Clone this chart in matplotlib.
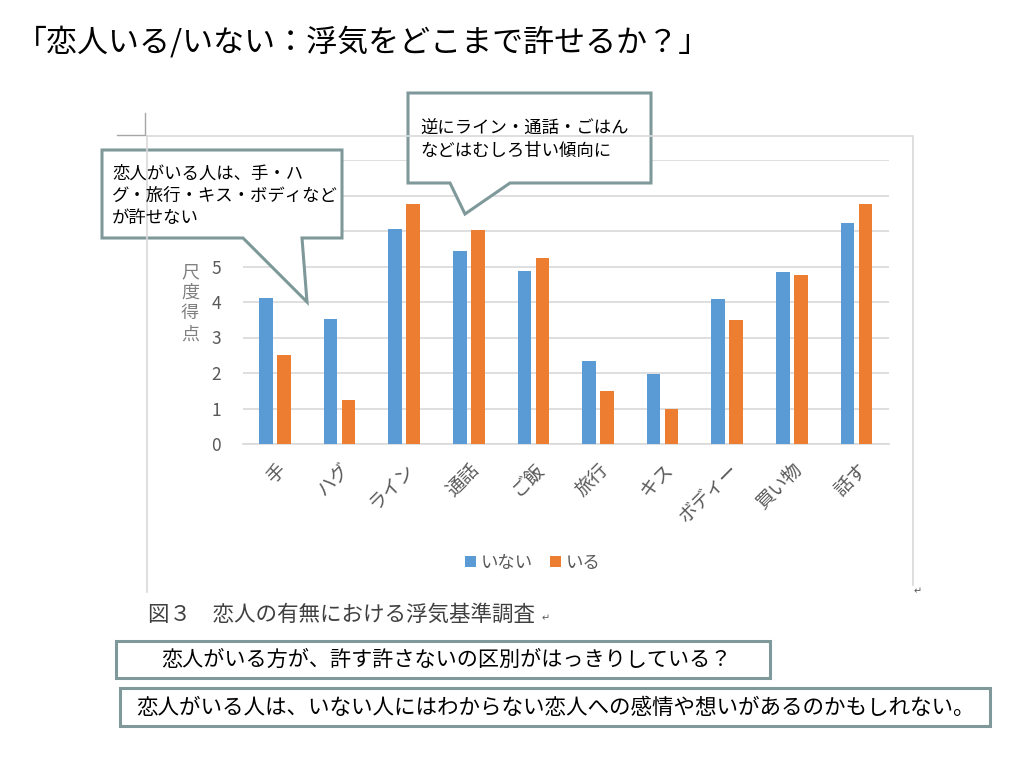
import matplotlib
matplotlib.use('Agg')
import matplotlib.pyplot as plt
from matplotlib.patches import Polygon, Rectangle
import numpy as np

plt.rcParams['font.family'] = ['Noto Sans CJK JP', 'DejaVu Sans']

# data
categories = ['手', 'ハグ', 'ライン', '通話', 'ご飯', '旅行', 'キス', 'ボディー', '買い物', '話す']
no_partner = [4.12, 3.53, 6.05, 5.43, 4.87, 2.35, 1.98, 4.08, 4.84, 6.22]
has_partner = [2.50, 1.25, 6.76, 6.02, 5.25, 1.50, 1.00, 3.50, 4.77, 6.76]
series_names = ['いない', 'いる']
y_ticks = [0, 1, 2, 3, 4, 5, 6, 7, 8]
# 6-8 sit behind the callout box in the original, so no label
y_tick_labels = ['0', '1', '2', '3', '4', '5', '', '', '']

title = '「恋人いる/いない：浮気をどこまで許せるか？」'
ylabel = '尺度得点'
caption = '図３　恋人の有無における浮気基準調査'
note1 = '恋人がいる人は、手・ハ\nグ・旅行・キス・ボディなど\nが許せない'
note2 = '逆にライン・通話・ごはん\nなどはむしろ甘い傾向に'
box1 = '恋人がいる方が、許す許さないの区別がはっきりしている？'
box2 = '恋人がいる人は、いない人にはわからない恋人への感情や想いがあるのかもしれない。'

BLUE = '#5B9BD5'
ORANGE = '#ED7D31'
GRID = '#D9D9D9'
EDGE = '#7F999B'
W, H = 1024, 768

fig = plt.figure(figsize=(10.24, 7.68), dpi=100)

# main chart axes, placed in pixel terms
def px_axes(l, t, r, b):
    return fig.add_axes([l / W, 1 - b / H, (r - l) / W, (b - t) / H])

ax = px_axes(243, 160, 889, 444)
x = np.arange(len(categories))
bw = 0.21
ax.bar(x - 0.145, no_partner, bw, color=BLUE, label=series_names[0], zorder=3)
ax.bar(x + 0.135, has_partner, bw, color=ORANGE, label=series_names[1], zorder=3)
ax.set_xlim(-0.5, len(categories) - 0.5)
ax.set_ylim(0, 8)
ax.set_yticks(y_ticks)
ax.set_yticklabels(y_tick_labels)
ax.yaxis.grid(True, color=GRID, lw=1.2, zorder=0)
for s in ['top', 'right', 'left']:
    ax.spines[s].set_visible(False)
ax.spines['bottom'].set_color(GRID)
ax.spines['bottom'].set_linewidth(1.2)
ax.tick_params(length=0, colors='#595959')
ax.tick_params(axis='y', pad=16, labelsize=12.5)
ax.set_xticks(x)
ax.set_xticklabels(categories, rotation=45, ha='right', rotation_mode='anchor', fontsize=13.5)
ax.tick_params(axis='x', pad=11)

leg = fig.legend(loc='center', bbox_to_anchor=(533 / W, 1 - 563 / H), ncol=2, frameon=False,
                 fontsize=12.5, handlelength=0.6, handleheight=0.6, handletextpad=0.3,
                 columnspacing=1.0, labelcolor='#595959')

# overlay in pixel coords for the slide decorations
ov = fig.add_axes([0, 0, 1, 1], zorder=5)
ov.set_xlim(0, W)
ov.set_ylim(H, 0)
ov.axis('off')
ov.patch.set_alpha(0)

ov.text(16, 43, title, fontsize=22.3, va='center', ha='left', color='black')

# chart frame and crop mark
ov.plot([147, 913, 913], [136, 136, 585], color=GRID, lw=1.2)
ov.plot([147, 147], [136, 592], color=GRID, lw=1.2)
ov.plot([117, 145, 145], [135, 135, 113], color='#A6A6A6', lw=1)
ov.text(914, 591, '↵', fontsize=7, color='#595959', family='DejaVu Sans', va='center')

ov.text(190, 303, '\n'.join(ylabel), fontsize=13, color='#808080', ha='center', va='center',
        linespacing=1.2)

# callouts
call1 = [(102, 150), (342, 150), (342, 238), (302, 238), (307, 302), (243, 238), (102, 238)]
call2 = [(408, 93), (651, 93), (651, 183), (510, 183), (465, 214), (450, 183), (408, 183)]
for pts in (call1, call2):
    ov.add_patch(Polygon(pts, closed=True, facecolor='white', edgecolor=EDGE, lw=2.2, joinstyle='miter'))
ov.text(112, 196, note1, fontsize=12.5, va='center', ha='left', linespacing=1.3)
ov.text(420, 140, note2, fontsize=12.5, va='center', ha='left', linespacing=1.3)

ov.text(148, 615, caption, fontsize=15.5, va='center', ha='left', color='#404040')
ov.text(542, 618, '↵', fontsize=7, color='#595959', family='DejaVu Sans', va='center')

ov.add_patch(Rectangle((116, 641), 654, 37, facecolor='white', edgecolor=EDGE, lw=2.2))
ov.text(446, 660, box1, fontsize=15.2, va='center', ha='center')
ov.add_patch(Rectangle((120, 688), 870, 38, facecolor='white', edgecolor=EDGE, lw=2.2))
ov.text(555, 708, box2, fontsize=15.5, va='center', ha='center')

fig.savefig('out.png', dpi=100)
